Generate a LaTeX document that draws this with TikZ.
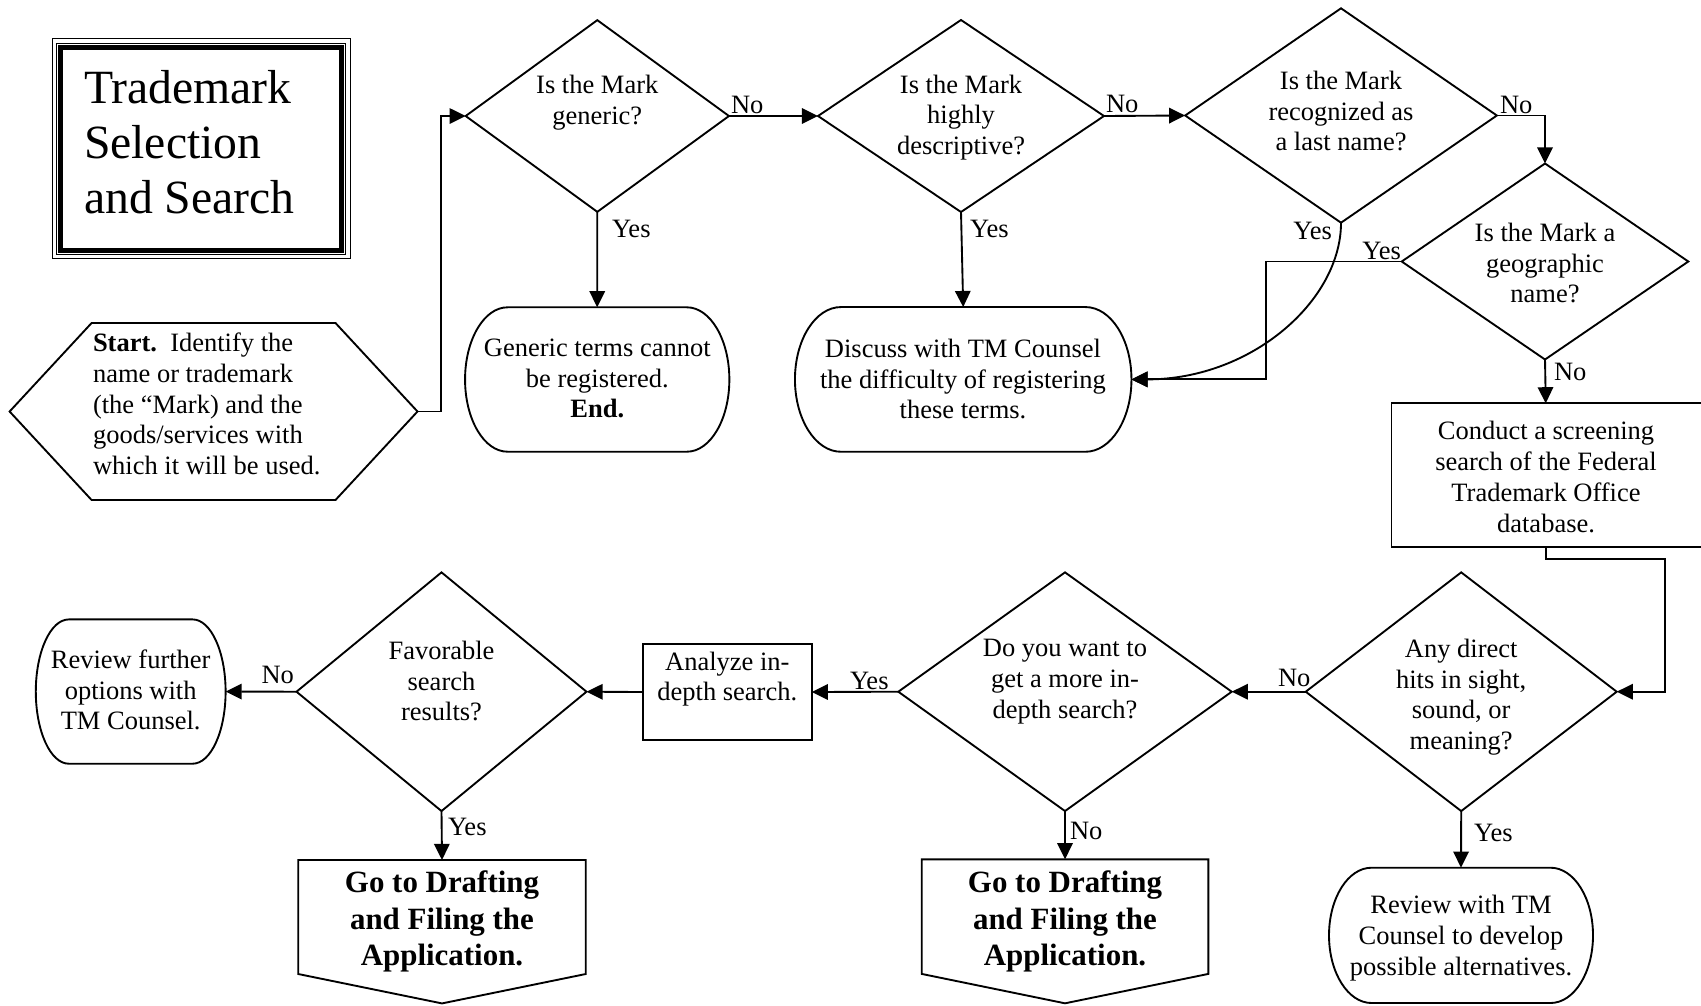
\documentclass[tikz,border=0pt]{standalone}
\usepackage{fontspec}
\setmainfont{Liberation Serif}
\usetikzlibrary{arrows.meta,calc,shapes.geometric}
\def\pxu{*0.4528pt}
\newcommand\termshape[3]{%
  \draw ($(#1.north west)+(#2,0)$) -- ($(#1.north east)+(-#2,0)$)
    arc[start angle=90,end angle=-90,x radius=#2\pxu,y radius=#3\pxu]
    -- ($(#1.south west)+(#2,0)$)
    arc[start angle=270,end angle=90,x radius=#2\pxu,y radius=#3\pxu] -- cycle;}
\begin{document}
\begin{tikzpicture}[x=0.4528pt,y=-0.4528pt,line width=0.85pt,
  arr/.style={-{Triangle[length=7.3pt,width=7pt]}},
  txt/.style={inner sep=0pt,outer sep=0pt,align=center,font=\fontsize{12}{13.9}\selectfont},
  lbl/.style={inner sep=0pt,outer sep=0pt,font=\fontsize{12}{13.9}\selectfont},
  dia/.style={diamond,draw,inner sep=0pt,outer sep=0pt},
  frame/.style={rectangle,draw=none,inner sep=0pt,outer sep=0pt},
  bigtxt/.style={txt,font=\bfseries\fontsize{14}{16.6}\selectfont}]
\useasboundingbox (0,0) rectangle (1701,1005);
\clip (0,0) rectangle (1701,1005);

% ---------- title box ----------
\draw[line width=0.59pt] (52.2,38.8) rectangle (350.2,258.8);
\draw[line width=3.17pt] (59.7,46.3) rectangle (342.7,251.3);
\draw[white,line width=0.41pt] (57.7,44.3) rectangle (344.7,253.3);
\node[inner sep=0pt,outer sep=0pt,align=left,anchor=west,font=\fontsize{21.6}{24.9}\selectfont] (title) at (84,142) {Trademark\\Selection\\and Search};

% ---------- shapes ----------
\node[frame,minimum width=407.9\pxu,minimum height=177\pxu] (st) at (213.55,411.5) {};
\draw (st.west) -- ($(st.north west)+(82,0)$) -- ($(st.north east)+(-82,0)$) -- (st.east)
  -- ($(st.south east)+(-82,0)$) -- ($(st.south west)+(82,0)$) -- cycle;

\node[dia,minimum width=263.3\pxu,minimum height=191.7\pxu] (d1) at (597.3,116) {};
\node[dia,minimum width=286\pxu,minimum height=192\pxu] (d2) at (961,116) {};
\node[dia,minimum width=311.7\pxu,minimum height=214.4\pxu] (d3) at (1341,115.5) {};
\node[dia,minimum width=286.6\pxu,minimum height=196\pxu] (d4) at (1545,261.5) {};
\node[dia,minimum width=311\pxu,minimum height=238.7\pxu] (d5) at (1461.2,691.7) {};
\node[dia,minimum width=333.4\pxu,minimum height=238.7\pxu] (d6) at (1065,691.7) {};
\node[dia,minimum width=290\pxu,minimum height=238.7\pxu] (d7) at (441.5,691.7) {};

\node[frame,minimum width=264.3\pxu,minimum height=144.4\pxu] (gen) at (597.2,379.5) {};
\termshape{gen}{42.5}{72.2}
\node[frame,minimum width=336.5\pxu,minimum height=144.7\pxu] (disc) at (963.2,379.4) {};
\termshape{disc}{46}{72.35}
\node[frame,minimum width=189.8\pxu,minimum height=144.3\pxu] (rf) at (130.7,691.55) {};
\termshape{rf}{33}{72.15}
\node[frame,minimum width=264\pxu,minimum height=135.3\pxu] (rtm) at (1461,935.35) {};
\termshape{rtm}{42.5}{67.65}

\node[frame,minimum width=308.5\pxu,minimum height=143.4\pxu] (cond) at (1545.75,475) {};
\draw (cond.north west) rectangle ($(cond.south east)+(30,0)$);
\node[frame,draw,minimum width=169\pxu,minimum height=96\pxu] (ana) at (727.2,692) {};

\node[frame,minimum width=287.5\pxu,minimum height=143.4\pxu] (p1) at (442,931.7) {};
\draw (p1.north west) -- (p1.north east) -- ($(p1.south east)+(0,-29.4)$) -- (p1.south)
  -- ($(p1.south west)+(0,-29.4)$) -- cycle;
\node[frame,minimum width=286.6\pxu,minimum height=144\pxu] (p2) at (1065,931.3) {};
\draw (p2.north west) -- (p2.north east) -- ($(p2.south east)+(0,-29.4)$) -- (p2.south)
  -- ($(p2.south west)+(0,-29.4)$) -- cycle;

% ---------- texts ----------
\node[txt,align=left,anchor=west] (stt) at (93,404) {\textbf{Start.}~~Identify the\\name or trademark\\(the “Mark) and the\\goods/services with\\which it will be used.};
\node[txt] (d1t) at (597.3,103) {Is the Mark\\generic?};
\node[txt] (d2t) at (961,117.5) {Is the Mark\\highly\\descriptive?};
\node[txt] (d3t) at (1341,111) {Is the Mark\\recognized as\\a last name?};
\node[txt] (d4t) at (1545,263) {Is the Mark a\\geographic\\name?};
\node[txt] (gent) at (597.3,378.5) {Generic terms cannot\\be registered.\\\textbf{End.}};
\node[txt] (disct) at (963,379) {Discuss with TM Counsel\\the difficulty of registering\\these terms.};
\node[txt] (condt) at (1546,477) {Conduct a screening\\search of the Federal\\Trademark Office\\database.};
\node[txt] (d5t) at (1461.2,697) {Any direct\\hits in sight,\\sound, or\\meaning?};
\node[txt] (d6t) at (1065,681.5) {Do you want to\\get a more in-\\depth search?};
\node[txt] (anat) at (727.3,679) {Analyze in-\\depth search.};
\node[txt] (d7t) at (441.5,681) {Favorable\\search\\results?};
\node[txt] (rft) at (130.7,690) {Review further\\options with\\TM Counsel.};
\node[bigtxt] (p1t) at (442,921.5) {Go to Drafting\\and Filing the\\Application.};
\node[bigtxt] (p2t) at (1065,921.5) {Go to Drafting\\and Filing the\\Application.};
\node[txt] (rtmt) at (1461,938) {Review with TM\\Counsel to develop\\possible alternatives.};

% ---------- connectors ----------
\draw[arr] (st.east) -- ++(23.7,0) |- (d1.west);
\draw[arr] (d1.east) -- (d2.west);
\draw[arr] (d2.east) -- (d3.west);
\draw[arr] (d3.east) -| (d4.north);
\draw[arr] (d1.south) -- (gen.north);
\draw[arr] (d2.south) -- (disc.north);
\draw[arr] (d3.south) .. controls ($(d3.south)+(0,78)$) and ($(disc.east)+(120,0)$) .. (disc.east);
\draw[arr] (d4.west) -- ++(-135.7,0) |- (disc.east);
\draw[arr] (d4.south) -- (cond.north);
\draw[arr] (cond.south) -- ++(0,12.5) -| ($(d5.east)+(48.3,0)$) -- (d5.east);
\draw[arr] (d5.west) -- (d6.east);
\draw[arr] (d6.west) -- (ana.east);
\draw[arr] (ana.west) -- (d7.east);
\draw[arr] (d7.west) -- (rf.east);
\draw[arr] (d7.south) -- (p1.north);
\draw[arr] (d6.south) -- (p2.north);
\draw[arr] (d5.south) -- (rtm.north);

% ---------- labels ----------
\node[lbl,anchor=base west] (l1) at (731,113) {No};
\node[lbl,anchor=base west] (l2) at (1106,112) {No};
\node[lbl,anchor=base west] (l3) at (1500,113) {No};
\node[lbl,anchor=base west] (l4) at (612,237) {Yes};
\node[lbl,anchor=base west] (l5) at (970,237) {Yes};
\node[lbl,anchor=base east] (l6) at (1332,239) {Yes};
\node[lbl,anchor=base east] (l7) at (1401,259) {Yes};
\node[lbl,anchor=base west] (l8) at (1554,380.5) {No};
\node[lbl,anchor=base west] (l9) at (1278,686) {No};
\node[lbl,anchor=base west] (l10) at (1474,841) {Yes};
\node[lbl,anchor=base west] (l11) at (850,689) {Yes};
\node[lbl,anchor=base west] (l12) at (1070,839) {No};
\node[lbl,anchor=base west] (l13) at (261.5,683) {No};
\node[lbl,anchor=base west] (l14) at (448,835) {Yes};
\end{tikzpicture}
\end{document}
